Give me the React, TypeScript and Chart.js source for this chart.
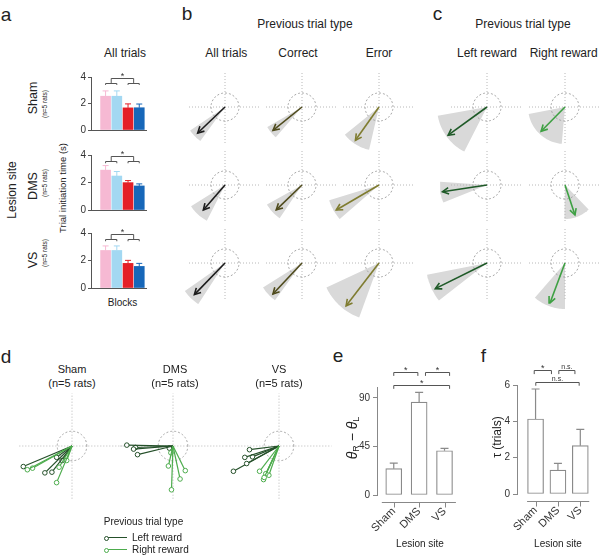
import React, { useEffect, useRef } from 'react';
import { Chart, registerables } from 'chart.js';
Chart.register(...registerables);

const FONT = '"Liberation Sans", Arial, Helvetica, sans-serif';
Chart.defaults.font.family = FONT;
Chart.defaults.color = '#333';

// ---------------- Panel a: trial initiation time (s) per block ----------------
const blockX = [1, 2, 3, 4];
const blockColors = ['#f6b9d3', '#a3d8f2', '#e41f27', '#1767b9'];
const initTicks = [0, 2, 4];
const shamInitTime = [2.55, 2.55, 1.67, 1.68];
const shamInitErr = [0.4, 0.4, 0.3, 0.28];
const dmsInitTime = [2.9, 2.47, 1.99, 1.75];
const dmsInitErr = [0.33, 0.33, 0.15, 0.15];
const vsInitTime = [2.73, 2.73, 1.79, 1.57];
const vsInitErr = [0.33, 0.33, 0.22, 0.22];

// ---------------- Panels b, c: mean vector (angle deg, length) + spread ----------------
const allTrialsAngle = [223.6, 229, 225.9];
const allTrialsLen = [37.7, 33, 44];
const allTrialsLo = [214, 212, 215];
const allTrialsHi = [234, 243, 237];
const allTrialsSpreadR = [42, 40, 49];

const correctAngle = [218.8, 224, 226.9];
const correctLen = [37.2, 35.8, 42.5];
const correctLo = [210, 209, 212];
const correctHi = [229, 236, 234];
const correctSpreadR = [40, 40, 46];

const errorAngle = [234.7, 210.3, 232.5];
const errorLen = [40.8, 49.5, 54];
const errorLo = [219, 197, 205];
const errorHi = [257, 221, 250];
const errorSpreadR = [44, 52, 58];

const leftRewardAngle = [216, 188.6, 206.4];
const leftRewardLen = [48, 45, 57.7];
const leftRewardLo = [190, 176, 191];
const leftRewardHi = [243, 202, 218];
const leftRewardSpreadR = [50, 47, 61];

const rightRewardAngle = [225.4, 288.4, 249.4];
const rightRewardLen = [34, 31.6, 42.7];
const rightRewardLo = [191, 269, 229];
const rightRewardHi = [265, 314, 270];
const rightRewardSpreadR = [37, 34, 46];

// ---------------- Panel d: individual rats ----------------
const shamLeftAngle = [202.9, 224.7, 232.5, 216.4, 235.7];
const shamLeftLen = [57.2, 41.3, 35.7, 20.7, 19];
const shamRightAngle = [208, 209.3, 247.2, 238.7, 250];
const shamRightLen = [54.7, 49, 43, 26.9, 16.7];
const dmsLeftAngle = [178.9, 184.5, 182.3, 193.7, 210];
const dmsLeftLen = [50, 42.8, 40.7, 39.5, 4.6];
const dmsRightAngle = [257, 296.5, 282.1, 268, 252.6];
const dmsRightLen = [22.2, 29.8, 36.5, 47.4, 7.7];
const vsLeftAngle = [187.1, 198.4, 202.2, 208.5, 209];
const vsLeftLen = [32.2, 39, 31, 39.8, 56.4];
const vsRightAngle = [232.4, 244.8, 244.5, 250.9, 245.3];
const vsRightLen = [34.5, 37.6, 33.2, 33.5, 40];

// ---------------- Panels e, f ----------------
const lesionSites = ['Sham', 'DMS', 'VS'];
const siteX = [1, 2, 3];
const thetaDiff = [24.4, 86, 41];
const thetaDiffErr = [5.2, 9, 2.2];
const thetaTicks = [0, 45, 90];
const tauTrials = [4.13, 1.32, 2.66];
const tauErr = [1.65, 0.37, 0.9];
const tauTicks = [0, 2, 4, 6];

// ---------------- helpers ----------------
const pol = (deg: number, r: number) => ({ x: r * Math.cos((deg * Math.PI) / 180), y: r * Math.sin((deg * Math.PI) / 180) });

function ChartBox({ x, y, w, h, make }: any) {
  const ref = useRef<HTMLCanvasElement>(null);
  useEffect(() => {
    const c = new Chart(ref.current as HTMLCanvasElement, make());
    return () => c.destroy();
  }, []);
  return <canvas ref={ref} width={w} height={h} style={{ position: 'absolute', left: x, top: y, width: w, height: h }} />;
}

function T({ x, y, size, rot = 0, children, anchor = 'middle', color = '#222', weight = 400 }: any) {
  const tx = anchor === 'start' ? '0' : '-50%';
  return (
    <div style={{ position: 'absolute', left: x, top: y, transform: `translate(${tx},-50%) rotate(${rot}deg)`, fontSize: size, lineHeight: 1, whiteSpace: 'nowrap', color, fontFamily: FONT, fontWeight: weight }}>
      {children}
    </div>
  );
}

const errPlugin = (errors: number[], colors: string[], cap: number, width: number) => ({
  id: 'errbars',
  afterDatasetsDraw(chart: any) {
    const { ctx } = chart;
    const ys = chart.scales.y;
    const ds = chart.data.datasets[0];
    const meta = chart.getDatasetMeta(0);
    ctx.save();
    ctx.lineWidth = width;
    meta.data.forEach((bar: any, i: number) => {
      const v = ds.data[i].y;
      const top = ys.getPixelForValue(v + errors[i]);
      ctx.strokeStyle = colors[i % colors.length];
      ctx.beginPath();
      ctx.moveTo(bar.x, bar.y);
      ctx.lineTo(bar.x, top);
      ctx.moveTo(bar.x - cap, top);
      ctx.lineTo(bar.x + cap, top);
      ctx.stroke();
    });
    ctx.restore();
  },
});

const bracketPlugin = (list: any[]) => ({
  id: 'brackets',
  afterDraw(chart: any) {
    const { ctx } = chart;
    const { x, y } = chart.scales;
    ctx.save();
    ctx.strokeStyle = '#555';
    ctx.lineWidth = 1;
    ctx.fillStyle = '#333';
    ctx.textAlign = 'center';
    ctx.textBaseline = 'bottom';
    for (const b of list) {
      const p1 = x.getPixelForValue(b.x1);
      const p2 = x.getPixelForValue(b.x2);
      const py = Math.round(y.getPixelForValue(b.y)) + 0.5;
      const pe = y.getPixelForValue(b.yEnd);
      ctx.beginPath();
      ctx.moveTo(p1, pe);
      ctx.lineTo(p1, py);
      ctx.lineTo(p2, py);
      ctx.lineTo(p2, pe);
      ctx.stroke();
      if (b.label) {
        ctx.font = `${b.size || 9}px ${FONT}`;
        ctx.fillText(b.label, (p1 + p2) / 2, py + (b.label === '*' ? 3 : 0));
      }
    }
    ctx.restore();
  },
});

const detachedAxisPlugin = (lo: number, hi: number, ticks: number[], gap: number) => ({
  id: 'detachedX',
  afterDraw(chart: any) {
    const { ctx, chartArea } = chart;
    const x = chart.scales.x;
    const yy = Math.round(chartArea.bottom + gap) + 0.5;
    ctx.save();
    ctx.strokeStyle = '#888';
    ctx.lineWidth = 1;
    ctx.beginPath();
    ctx.moveTo(x.getPixelForValue(lo), yy);
    ctx.lineTo(x.getPixelForValue(hi), yy);
    for (const t of ticks) {
      const px = Math.round(x.getPixelForValue(t)) + 0.5;
      ctx.moveTo(px, yy);
      ctx.lineTo(px, yy + 5);
    }
    ctx.stroke();
    ctx.restore();
  },
});

// ---------------- Panel a bars ----------------
const blockBrackets = [
  { x1: 1, x2: 2, y: 3.55, yEnd: 3.4 },
  { x1: 3, x2: 4, y: 3.55, yEnd: 3.4 },
  { x1: 1.5, x2: 3.5, y: 3.93, yEnd: 3.55, label: '*', size: 9 },
];

function blockBarConfig(values: number[], errors: number[]) {
  return {
    type: 'bar',
    data: { datasets: [{ data: blockX.map((x, i) => ({ x, y: values[i] })), backgroundColor: blockColors, barThickness: 10, borderWidth: 0 }] },
    options: {
      animation: false, responsive: false, events: [],
      layout: { padding: { top: 8, right: 4, left: 0, bottom: 0 } },
      plugins: { legend: { display: false }, tooltip: { enabled: false } },
      scales: {
        x: { type: 'linear', min: -0.3, max: 4.6, offset: false, ticks: { display: false }, grid: { display: false, drawTicks: false }, border: { display: true, color: '#555' }, afterFit: (s: any) => { s.height = 2; } },
        y: {
          type: 'linear', min: 0, max: 4,
          afterBuildTicks: (s: any) => { s.ticks = initTicks.map((v) => ({ value: v })); },
          ticks: { font: { size: 10 }, color: '#333', padding: 2 },
          grid: { drawOnChartArea: false, tickLength: 3, color: '#555' },
          border: { color: '#555' },
          afterFit: (s: any) => { s.width = 31; },
        },
      },
    },
    plugins: [errPlugin(errors, blockColors, 3, 1), bracketPlugin(blockBrackets)],
  };
}

// ---------------- Panels e, f bars ----------------
function siteBarConfig(values: number[], errors: number[], yMax: number, ticks: number[], xMin: number, xMax: number, yW: number, padTop: number, padRight: number, xH: number, brackets: any[], axLo: number, axHi: number) {
  return {
    type: 'bar',
    data: { datasets: [{ data: siteX.map((x, i) => ({ x, y: values[i] })), backgroundColor: '#ffffff', borderColor: '#8a8a8a', borderWidth: 1.2, borderSkipped: false, barThickness: 16 }] },
    options: {
      animation: false, responsive: false, events: [],
      layout: { padding: { top: padTop, right: padRight, left: 0, bottom: 0 } },
      plugins: { legend: { display: false }, tooltip: { enabled: false } },
      scales: {
        x: {
          type: 'linear', min: xMin, max: xMax, offset: false,
          afterBuildTicks: (s: any) => { s.ticks = siteX.map((v) => ({ value: v })); },
          ticks: { callback: (v: any) => lesionSites[Math.round(v) - 1], minRotation: 45, maxRotation: 45, autoSkip: false, padding: 10, font: { size: 11 }, color: '#333' },
          grid: { display: false, drawTicks: false },
          border: { display: false },
          afterFit: (s: any) => { s.height = xH; },
        },
        y: {
          type: 'linear', min: 0, max: yMax,
          afterBuildTicks: (s: any) => { s.ticks = ticks.map((v) => ({ value: v })); },
          ticks: { font: { size: 10 }, color: '#333', padding: 3 },
          grid: { drawOnChartArea: false, tickLength: 4, color: '#888' },
          border: { color: '#888' },
          afterFit: (s: any) => { s.width = yW; },
        },
      },
    },
    plugins: [errPlugin(errors, ['#8a8a8a'], 4, 1.2), bracketPlugin(brackets), detachedAxisPlugin(axLo, axHi, siteX, 7)],
  };
}

const thetaBrackets = [
  { x1: 1, x2: 1.95, y: 114, yEnd: 110.3, label: '*' },
  { x1: 2.25, x2: 3.2, y: 114, yEnd: 110.3, label: '*' },
  { x1: 1, x2: 3.2, y: 102, yEnd: 98.3, label: '*' },
];
const tauBrackets = [
  { x1: 0.94, x2: 1.71, y: 6.82, yEnd: 6.6, label: '*' },
  { x1: 2.04, x2: 2.76, y: 6.82, yEnd: 6.6, label: 'n.s.', size: 7 },
  { x1: 1.01, x2: 2.95, y: 6.18, yEnd: 5.96, label: 'n.s.', size: 7 },
];

// ---------------- Polar plots ----------------
const S = 66;
function polarConfig(datasets: any[]) {
  return {
    type: 'scatter',
    data: { datasets },
    options: {
      animation: false, responsive: false, events: [],
      layout: { padding: 0 },
      plugins: { legend: { display: false }, tooltip: { enabled: false } },
      scales: { x: { type: 'linear', display: false, min: -S, max: S }, y: { type: 'linear', display: false, min: -S, max: S } },
    },
  };
}
const seg = (data: any[], color: string, width: number, dash: number[] = []) => ({ data, showLine: true, borderColor: color, borderWidth: width, borderDash: dash, pointRadius: 0, fill: false });
function frame(E: number, R: number) {
  const ring: any[] = [];
  for (let i = 0; i <= 72; i++) ring.push(pol(i * 5, R));
  return [
    seg(ring, '#a5a5a5', 1, [2, 2]),
    seg([{ x: -E, y: 0 }, { x: E, y: 0 }], '#b8b8b8', 1, [1, 2]),
    seg([{ x: 0, y: -E }, { x: 0, y: E }], '#b8b8b8', 1, [1, 2]),
  ];
}
function vectorDatasets(angle: number, len: number, lo: number, hi: number, R: number, color: string) {
  const wedge: any[] = [{ x: 0, y: 0 }];
  const n = 24;
  for (let i = 0; i <= n; i++) wedge.push(pol(lo + ((hi - lo) * i) / n, R));
  wedge.push({ x: 0, y: 0 });
  const tip = pol(angle, len);
  const w1 = pol(angle + 180 - 28, 7);
  const w2 = pol(angle + 180 + 28, 7);
  const head = [{ x: tip.x + w1.x, y: tip.y + w1.y }, tip, { x: tip.x + w2.x, y: tip.y + w2.y }];
  return {
    top: [seg(head, color, 1.6), seg([{ x: 0, y: 0 }, tip], color, 1.6)],
    wedge: { data: wedge, showLine: true, borderColor: 'rgba(0,0,0,0)', borderWidth: 1, backgroundColor: '#d9d9d9', fill: 'shape', pointRadius: 0 },
  };
}
function VectorPlot({ cx, cy, angle, len, lo, hi, R, color }: any) {
  const make = () => {
    const v = vectorDatasets(angle, len, lo, hi, R, color);
    return polarConfig([...v.top, ...frame(36, 14), v.wedge]);
  };
  return <ChartBox x={cx - S} y={cy - S} w={2 * S} h={2 * S} make={make} />;
}

const LEFT_COL = '#25502a';
const RIGHT_COL = '#4dac4d';
function RatPlot({ cx, cy, la, ll, ra, rl }: any) {
  const make = () => {
    const mk = (a: number, l: number, c: string) => ({
      data: [{ x: 0, y: 0 }, pol(a, l)], showLine: true, borderColor: c, borderWidth: 1.2,
      pointRadius: [0, 2.3], pointBorderColor: c, pointBackgroundColor: '#fff', pointBorderWidth: 1, fill: false,
    });
    const lefts = la.map((a: number, i: number) => mk(a, ll[i], LEFT_COL));
    const rights = ra.map((a: number, i: number) => mk(a, rl[i], RIGHT_COL));
    return polarConfig([...rights, ...lefts, ...frame(57, 16)]);
  };
  return <ChartBox x={cx - S} y={cy - S} w={2 * S} h={2 * S} make={make} />;
}

const rowsY = [106.7, 185, 263.3];
const bCols = [
  { cx: 225, a: allTrialsAngle, l: allTrialsLen, lo: allTrialsLo, hi: allTrialsHi, r: allTrialsSpreadR, c: '#1c1c1c' },
  { cx: 302.3, a: correctAngle, l: correctLen, lo: correctLo, hi: correctHi, r: correctSpreadR, c: '#4f4b1d' },
  { cx: 379.3, a: errorAngle, l: errorLen, lo: errorLo, hi: errorHi, r: errorSpreadR, c: '#7f7c30' },
  { cx: 486.7, a: leftRewardAngle, l: leftRewardLen, lo: leftRewardLo, hi: leftRewardHi, r: leftRewardSpreadR, c: '#1f5a28' },
  { cx: 565, a: rightRewardAngle, l: rightRewardLen, lo: rightRewardLo, hi: rightRewardHi, r: rightRewardSpreadR, c: '#3ea043' },
];

const aPanels = [
  { label: 'Sham', v: shamInitTime, e: shamInitErr, top: 77, bottom: 136, ly: 98, sy: 104 },
  { label: 'DMS', v: dmsInitTime, e: dmsInitErr, top: 155, bottom: 216, ly: 186, sy: 183 },
  { label: 'VS', v: vsInitTime, e: vsInitErr, top: 233, bottom: 294, ly: 260, sy: 253 },
];

export default function App() {
  return (
    <div style={{ position: 'absolute', left: 0, top: 0, width: 600, height: 557, overflow: 'hidden', background: '#fff', fontFamily: FONT }}>
      {/* panel letters */}
      <T x={6} y={13.5} size={19}>a</T>
      <T x={187} y={13.4} size={19}>b</T>
      <T x={437.5} y={13.4} size={19}>c</T>
      <T x={6} y={356.4} size={19}>d</T>
      <T x={338} y={355.4} size={19}>e</T>
      <T x={483.5} y={355.4} size={19}>f</T>

      {/* panel a */}
      <T x={125} y={52.8} size={12}>All trials</T>
      <T x={12} y={190} size={12} rot={-90}>Lesion site</T>
      <T x={63} y={188} size={9.5} rot={-90}>Trial initiation time (s)</T>
      {aPanels.map((p) => (
        <React.Fragment key={p.label}>
          <T x={33} y={p.ly} size={12.5} rot={-90}>{p.label}</T>
          <T x={44.5} y={p.sy} size={6.5} rot={-90}>(n=5 rats)</T>
          <ChartBox x={60} y={p.top - 8} w={90} h={p.bottom - p.top + 10} make={() => blockBarConfig(p.v, p.e)} />
        </React.Fragment>
      ))}
      <T x={122.5} y={303} size={10}>Blocks</T>

      {/* panel b, c headers */}
      <T x={305} y={23.8} size={12}>Previous trial type</T>
      <T x={226.3} y={52.8} size={12}>All trials</T>
      <T x={298} y={52.8} size={12}>Correct</T>
      <T x={379} y={52.8} size={12}>Error</T>
      <T x={523} y={23.8} size={12}>Previous trial type</T>
      <T x={487} y={52.8} size={12}>Left reward</T>
      <T x={563.7} y={52.8} size={12}>Right reward</T>

      {bCols.map((col, ci) =>
        rowsY.map((cy, ri) => (
          <VectorPlot key={`${ci}-${ri}`} cx={col.cx} cy={cy} angle={col.a[ri]} len={col.l[ri]} lo={col.lo[ri]} hi={col.hi[ri]} R={col.r[ri]} color={col.c} />
        ))
      )}

      {/* panel d */}
      <T x={72} y={369} size={11}>Sham</T>
      <T x={72} y={382.5} size={11}>(n=5 rats)</T>
      <T x={175} y={369} size={11}>DMS</T>
      <T x={175} y={382.5} size={11}>(n=5 rats)</T>
      <T x={279} y={369} size={11}>VS</T>
      <T x={279} y={382.5} size={11}>(n=5 rats)</T>
      <RatPlot cx={71.7} cy={446} la={shamLeftAngle} ll={shamLeftLen} ra={shamRightAngle} rl={shamRightLen} />
      <RatPlot cx={173.3} cy={446} la={dmsLeftAngle} ll={dmsLeftLen} ra={dmsRightAngle} rl={dmsRightLen} />
      <RatPlot cx={279.3} cy={446} la={vsLeftAngle} ll={vsLeftLen} ra={vsRightAngle} rl={vsRightLen} />
      <T x={143.5} y={522} size={10}>Previous trial type</T>
      {[{ y: 538, c: LEFT_COL, t: 'Left reward' }, { y: 550, c: RIGHT_COL, t: 'Right reward' }].map((l) => (
        <React.Fragment key={l.t}>
          <div style={{ position: 'absolute', left: 106, top: l.y - 0.6, width: 21, height: 0, borderTop: `1.2px solid ${l.c}` }} />
          <div style={{ position: 'absolute', left: 103.5, top: l.y - 2.5, width: 3.5, height: 3.5, borderRadius: '50%', border: `1px solid ${l.c}`, background: '#fff' }} />
          <T x={132} y={l.y} size={10} anchor="start">{l.t}</T>
        </React.Fragment>
      ))}

      {/* panel e */}
      <T x={352.5} y={438} size={14} rot={-90}>
        <span style={{ fontStyle: 'italic' }}>θ</span>
        <span style={{ fontSize: 9, verticalAlign: '-0.3em' }}>R</span>
        {' − '}
        <span style={{ fontStyle: 'italic' }}>θ</span>
        <span style={{ fontSize: 9, verticalAlign: '-0.3em' }}>L</span>
      </T>
      <ChartBox x={340} y={355} w={125} h={185} make={() => siteBarConfig(thetaDiff, thetaDiffErr, 100, thetaTicks, 0.34, 3.45, 37, 32, 8, 45, thetaBrackets, 0.53, 3.45)} />
      <T x={420} y={544} size={10}>Lesion site</T>

      {/* panel f */}
      <T x={497} y={437} size={12} rot={-90}>τ (trials)</T>
      <ChartBox x={485} y={355} w={115} h={185} make={() => siteBarConfig(tauTrials, tauErr, 6, tauTicks, 0.17, 3.4, 32, 30, 3, 46, tauBrackets, 0.62, 3.4)} />
      <T x={558} y={544} size={10}>Lesion site</T>
    </div>
  );
}
